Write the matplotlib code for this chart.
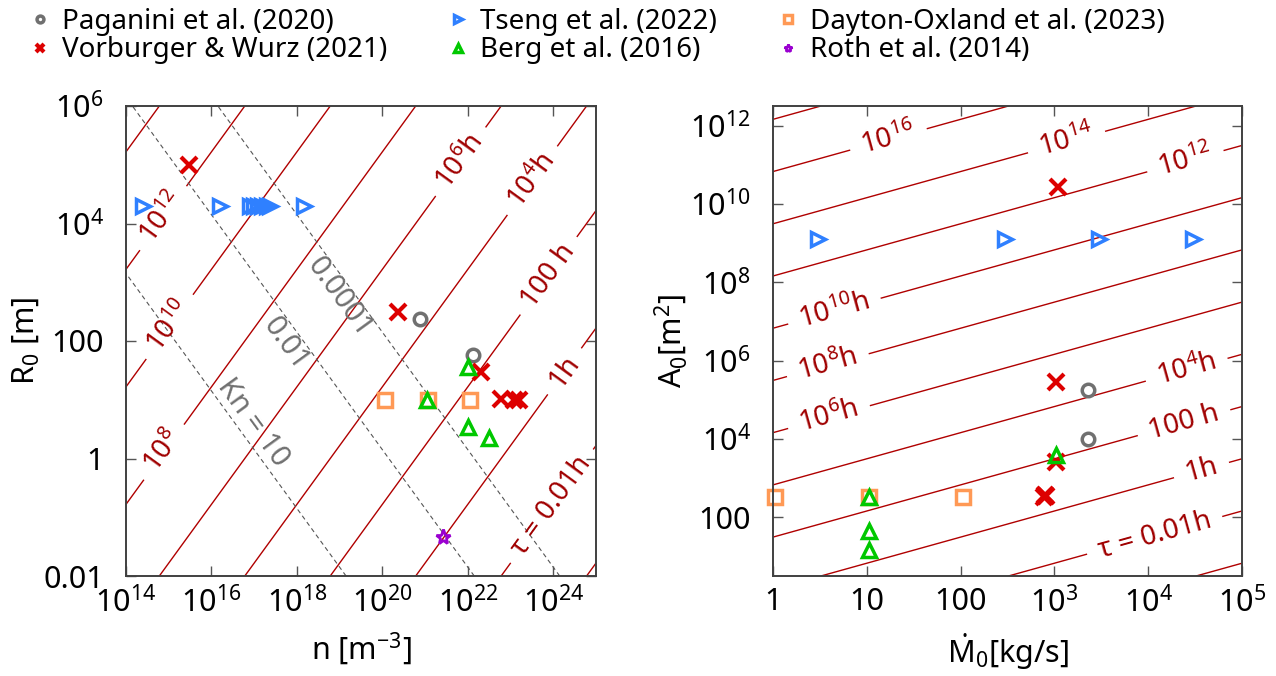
import numpy as np
import matplotlib
matplotlib.use('Agg')
import matplotlib.pyplot as plt
from matplotlib.ticker import NullLocator

plt.rcParams['font.family'] = ['Noto Sans', 'DejaVu Sans']
plt.rcParams['mathtext.fontset'] = 'custom'
plt.rcParams['mathtext.rm'] = 'Noto Sans'
plt.rcParams['mathtext.it'] = 'Noto Sans:italic'
plt.rcParams['mathtext.bf'] = 'Noto Sans:bold'
plt.rcParams['mathtext.default'] = 'regular'

# --- data ---
# left panel: number density n [m^-3] vs radius R0 [m]
pag_n = [7.6e20, 1.3e22]
pag_r = [240, 57]
vor_n = [3.0e15, 2.3e20, 2.0e22, 6.0e22, 1.23e23, 1.6e23]
vor_r = [1.0e5, 316, 30, 10.5, 10, 9.8]
tse_n = [2.45e14, 1.6e16, 8.1e16, 1.0e17, 1.26e17, 1.55e17, 1.95e17, 2.4e17, 1.5e18]
tse_r = [2e4] * 9
day_n = [1.15e20, 1.17e21, 1.15e22]
day_r = [10, 10, 10]
ber_n = [1.12e21, 1.0e22, 1.0e22, 3.2e22]
ber_r = [10, 36, 3.5, 2.2]
rot_n = [2.6e21]
rot_r = [0.046]

# right panel: mass flux Mdot0 [kg/s] vs area A0 [m^2]
pag_m = [2300, 2300]
pag_a = [1.8e5, 1.0e4]
vor_m = [1100, 1050, 1050, 800, 780, 820]
vor_a = [2.75e10, 2.9e5, 2.6e3, 360, 320, 340]
tse_m = [3, 300, 3000, 30000]
tse_a = [1.26e9] * 4
day_m = [1.05, 10.5, 105]
day_a = [330, 330, 330]
ber_m = [10.5, 10.5, 10.5, 1050]
ber_a = [330, 44, 15, 3900]

# model constants: tau[h] = K_LEFT * R / n ; tau[h] = K_RIGHT * A^1.5 / Mdot
K_LEFT = 10 ** 22.78
K_RIGHT = 10 ** -0.239
KN_CONST = 10 ** 18.15     # Kn = KN_CONST / (n R)
tau_levels = [-4, -2, 0, 2, 4, 6, 8, 10, 12, 14, 16, 18]
kn_levels = [-4, -2, 1]

left_fmt = {12: r'$10^{12}$', 10: r'$10^{10}$', 8: r'$10^8$', 6: r'$10^6$h',
            4: r'$10^4$h', 2: '100 h', 0: '1h', -2: 'τ = 0.01h'}
left_pos = [(7.8e14, 1.2e4), (1.1e15, 1.7e2), (6.6e14, 1.4), (7.8e21, 1.05e5),
            (4.0e23, 4.8e4), (8.9e23, 1.2e3), (1.66e24, 32), (3.6e23, 0.25)]
right_fmt = {16: r'$10^{16}$', 14: r'$10^{14}$', 12: r'$10^{12}$', 10: r'$10^{10}$h',
             8: r'$10^8$h', 6: r'$10^6$h', 4: r'$10^4$h', 2: '100 h', 0: '1h',
             -2: 'τ = 0.01h'}
right_pos = [(17.8, 3.0e11), (1410, 2.6e11), (2.5e4, 1.2e11), (4.7, 1.3e7),
             (4.0, 5.5e5), (4.2, 2.2e4), (2.5e4, 7.4e5), (2.4e4, 2.7e4),
             (3.7e4, 1.6e3), (1.2e4, 28)]
kn_labels = ['Kn = 10', '0.01', '0.0001']
kn_pos = [(9.5e16, 4.0), (5.6e17, 89), (1.0e19, 550)]

LINE_RED = '#b00000'
TEXT_RED = '#a00000'


def full_fmt(fmt):
    # every level needs an entry; unlabelled levels get an empty string
    return {lev: fmt.get(lev, '') for lev in tau_levels}


fig = plt.figure(figsize=(12.76, 6.76), dpi=100)
ax1 = fig.add_axes([126 / 1276, 100 / 676, 470 / 1276, 470 / 676])
ax2 = fig.add_axes([773 / 1276, 100 / 676, 469 / 1276, 470 / 676])

for ax in (ax1, ax2):
    ax.set_xscale('log')
    ax.set_yscale('log')

ax1.set_xlim(1e14, 1e25)
ax1.set_ylim(1e-2, 1e6)
ax2.set_xlim(1, 1e5)
ax2.set_ylim(10 ** 0.5, 10 ** 12.5)

# left panel contours
n_grid = np.logspace(14, 25, 300)
r_grid = np.logspace(-2, 6, 300)
N, R = np.meshgrid(n_grid, r_grid)
cs1 = ax1.contour(N, R, np.log10(K_LEFT * R / N), levels=tau_levels,
                  colors=LINE_RED, linewidths=1.0, negative_linestyles='solid')
ax1.clabel(cs1, fmt=full_fmt(left_fmt), manual=left_pos,
           inline=True, inline_spacing=12, fontsize=20, colors=TEXT_RED)
ax1.contour(N, R, np.log10(KN_CONST / (N * R)), levels=kn_levels,
            colors='#555555', linewidths=0.8, linestyles=[(0, (4, 3))])

fig.canvas.draw()
p1 = ax1.transData.transform((1e16, 1e2))
p2 = ax1.transData.transform((1e17, 1e1))
kn_angle = np.degrees(np.arctan2(p2[1] - p1[1], p2[0] - p1[0]))
for lab, (xx, yy) in zip(kn_labels, kn_pos):
    ax1.text(xx, yy, lab, rotation=kn_angle, rotation_mode='anchor',
             ha='center', va='center', color='#707070', fontsize=21)

# right panel contours
m_grid = np.logspace(0, 5, 300)
a_grid = np.logspace(0.5, 12.5, 300)
M, A = np.meshgrid(m_grid, a_grid)
cs2 = ax2.contour(M, A, np.log10(K_RIGHT * A ** 1.5 / M), levels=tau_levels,
                  colors=LINE_RED, linewidths=1.0, negative_linestyles='solid')
ax2.clabel(cs2, fmt=full_fmt(right_fmt), manual=right_pos,
           inline=True, inline_spacing=12, fontsize=20, colors=TEXT_RED)

# scatter points
styles = {
    'pag': dict(marker='o', color='#707070', ms=9, mfc='none', mew=2.5),
    'vor': dict(marker='x', color='#dd0000', ms=11, mew=3),
    'tse': dict(marker='>', color='#2f80ff', ms=10, mfc='none', mew=2.5),
    'day': dict(marker='s', color='#ff9955', ms=10, mfc='none', mew=2.5),
    'ber': dict(marker='^', color='#00c800', ms=10, mfc='none', mew=2.5),
    'rot': dict(marker='*', color='#9a00d0', ms=11, mfc='none', mew=2),
}
h_pag, = ax1.plot(pag_n, pag_r, ls='none', label='Paganini et al. (2020)', **styles['pag'])
h_vor, = ax1.plot(vor_n, vor_r, ls='none', label='Vorburger & Wurz (2021)', **styles['vor'])
h_tse, = ax1.plot(tse_n, tse_r, ls='none', label='Tseng et al. (2022)', **styles['tse'])
h_day, = ax1.plot(day_n, day_r, ls='none', label='Dayton-Oxland et al. (2023)', **styles['day'])
h_ber, = ax1.plot(ber_n, ber_r, ls='none', label='Berg et al. (2016)', **styles['ber'])
h_rot, = ax1.plot(rot_n, rot_r, ls='none', label='Roth et al. (2014)', **styles['rot'])

ax2.plot(pag_m, pag_a, ls='none', clip_on=False, **styles['pag'])
ax2.plot(vor_m, vor_a, ls='none', clip_on=False, **styles['vor'])
ax2.plot(tse_m, tse_a, ls='none', clip_on=False, **styles['tse'])
ax2.plot(day_m, day_a, ls='none', clip_on=False, **styles['day'])
ax2.plot(ber_m, ber_a, ls='none', clip_on=False, **styles['ber'])

# axes styling
ax1.set_xticks([1e14, 1e16, 1e18, 1e20, 1e22, 1e24])
ax1.set_xticklabels([r'$10^{14}$', r'$10^{16}$', r'$10^{18}$', r'$10^{20}$',
                     r'$10^{22}$', r'$10^{24}$'])
ax1.set_yticks([1e-2, 1, 1e2, 1e4, 1e6])
ax1.set_yticklabels(['0.01', '1', '100', r'$10^4$', r'$10^6$'])
ax2.set_xticks([1, 10, 100, 1e3, 1e4, 1e5])
ax2.set_xticklabels(['1', '10', '100', r'$10^3$', r'$10^4$', r'$10^5$'])
ax2.set_yticks([1e2, 1e4, 1e6, 1e8, 1e10, 1e12])
ax2.set_yticklabels(['100', r'$10^4$', r'$10^6$', r'$10^8$', r'$10^{10}$', r'$10^{12}$'])

for ax in (ax1, ax2):
    ax.xaxis.set_minor_locator(NullLocator())
    ax.yaxis.set_minor_locator(NullLocator())
    ax.tick_params(direction='in', length=7, width=1, top=True, right=True,
                   labelsize=22, color='#555555')
    ax.tick_params(axis='y', pad=16)
    ax.tick_params(axis='x', pad=8)
    for sp in ax.spines.values():
        sp.set_color('#404040')
        sp.set_linewidth(1.4)

ax1.set_xlabel(r'n [m$^{-3}$]', fontsize=22)
ax1.set_ylabel(r'R$_0$ [m]', fontsize=22)
ax2.set_xlabel(r'$\dot{M}_0$[kg/s]', fontsize=22)
ax2.set_ylabel(r'A$_0$[m$^2$]', fontsize=22)
ax1.xaxis.set_label_coords(0.5, -0.118)
ax2.xaxis.set_label_coords(0.5, -0.118)
ax1.yaxis.set_label_coords(-0.18, 0.5)
ax2.yaxis.set_label_coords(-0.177, 0.5)

fig.legend([h_pag, h_vor, h_tse, h_ber, h_day, h_rot],
           [h.get_label() for h in [h_pag, h_vor, h_tse, h_ber, h_day, h_rot]],
           ncol=3, loc='upper left', bbox_to_anchor=(0.0139, 1.009), frameon=False,
           fontsize=20, markerscale=0.55, handlelength=0.6, handletextpad=0.49,
           columnspacing=2.25, labelspacing=0.02, borderpad=0)

fig.savefig('out.png', dpi=100)
